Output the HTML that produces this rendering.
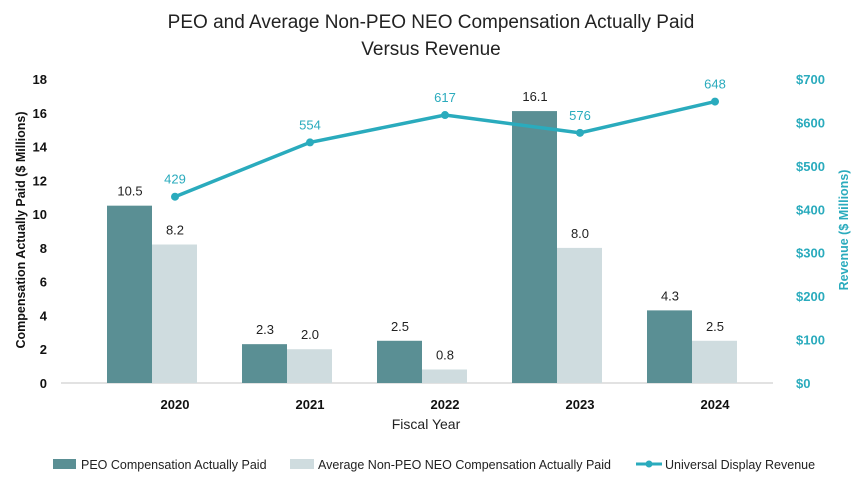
<!DOCTYPE html>
<html><head><meta charset="utf-8"><style>
body{margin:0;background:#fff;}
svg{display:block;font-family:"Liberation Sans",sans-serif;}
</style></head><body>
<svg id="chart" width="863" height="479">
<text x="431" y="28" text-anchor="middle" font-size="19" fill="#222">PEO and Average Non-PEO NEO Compensation Actually Paid</text>
<text x="431" y="55" text-anchor="middle" font-size="19" fill="#222">Versus Revenue</text>
<text transform="translate(25,230) rotate(-90)" text-anchor="middle" font-size="12.5" font-weight="bold" fill="#111">Compensation Actually Paid ($ Millions)</text>
<text transform="translate(848,230) rotate(-90)" text-anchor="middle" font-size="12.5" font-weight="bold" fill="#2aabbd">Revenue ($ Millions)</text>
<text x="426" y="429" text-anchor="middle" font-size="14" fill="#222">Fiscal Year</text>
<g id="g"></g>
<g>
<rect x="53" y="459" width="23" height="10" fill="#5a8f94"/>
<text x="81" y="469" font-size="12.5" fill="#222">PEO Compensation Actually Paid</text>
<rect x="290" y="459" width="24" height="10" fill="#cfdcdf"/>
<text x="318" y="469" font-size="12.5" fill="#222">Average Non-PEO NEO Compensation Actually Paid</text>
<line x1="636" y1="464" x2="662" y2="464" stroke="#2aabbd" stroke-width="3"/>
<circle cx="649" cy="464" r="3.5" fill="#2aabbd"/>
<text x="665" y="469" font-size="12.5" fill="#222">Universal Display Revenue</text>
</g>
</svg>
<script>
const years=["2020","2021","2022","2023","2024"];
const peo=[10.5,2.3,2.5,16.1,4.3];
const neo=[8.2,2.0,0.8,8.0,2.5];
const revenue=[429,554,617,576,648];
const leftTicks=[0,2,4,6,8,10,12,14,16,18];
const rightTicks=[0,100,200,300,400,500,600,700];
const NS="http://www.w3.org/2000/svg";
const g=document.getElementById('g');
const y0=383,yTop=79;
const yL=v=>y0-(y0-yTop)*v/18;
const yR=v=>y0-(y0-yTop)*v/700;
const xC=i=>175+135*i;
function mk(t,a,txt){const e=document.createElementNS(NS,t);for(const k in a)e.setAttribute(k,a[k]);if(txt!==undefined)e.textContent=txt;g.appendChild(e);return e;}
let e=mk('line',{x1:61,x2:773,y1:y0,y2:y0,stroke:'#d9d9d9','stroke-width':1.5});


leftTicks.forEach(v=>{const t=mk('text',{x:47,y:yL(v)+5,'text-anchor':'end','font-size':13,'font-weight':'bold',fill:'#111'},v);

});
rightTicks.forEach(v=>{const t=mk('text',{x:796,y:yR(v)+5,'font-size':13,'font-weight':'bold',fill:'#2aabbd'},'$'+v);

});
years.forEach((yr,i)=>{const c=xC(i);
const b1=mk('rect',{x:c-68,y:yL(peo[i]),width:45,height:y0-yL(peo[i]),fill:'#5a8f94'});


const b2=mk('rect',{x:c-23,y:yL(neo[i]),width:45,height:y0-yL(neo[i]),fill:'#cfdcdf'});


const l1=mk('text',{x:c-45,y:yL(peo[i])-10,'text-anchor':'middle','font-size':13,fill:'#222'},peo[i].toFixed(1));


const l2=mk('text',{x:c,y:yL(neo[i])-10,'text-anchor':'middle','font-size':13,fill:'#222'},neo[i].toFixed(1));


const xt=mk('text',{x:c,y:409,'text-anchor':'middle','font-size':13,'font-weight':'bold',fill:'#111'},yr);

});
const pl=mk('polyline',{points:revenue.map((v,i)=>xC(i)+','+yR(v)).join(' '),fill:'none',stroke:'#2aabbd','stroke-width':3.5});


revenue.forEach((v,i)=>{const p=mk('circle',{cx:xC(i),cy:yR(v),r:4,fill:'#2aabbd'});


const t=mk('text',{x:xC(i),y:yR(v)-13,'text-anchor':'middle','font-size':13,fill:'#2aabbd'},v);

});
</script>
</body></html>
